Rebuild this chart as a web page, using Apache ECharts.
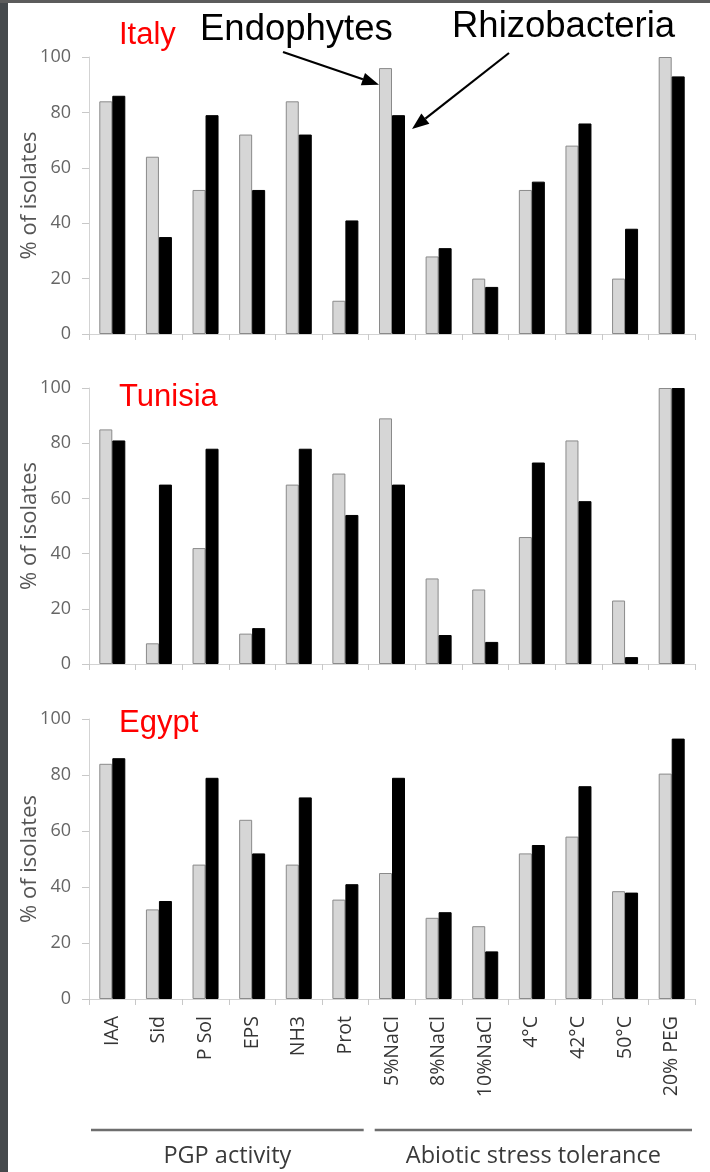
<!DOCTYPE html>
<html>
<head>
<meta charset="utf-8">
<script src="https://cdn.jsdelivr.net/npm/echarts@6/dist/echarts.min.js"></script>
<style>
  html, body { margin: 0; padding: 0; background: #ffffff; }
  #chart { width: 710px; height: 1172px; }
</style>
</head>
<body>
<div id="chart"></div>
<script>
// Traits tested on each isolate collection
const categories = ['IAA', 'Sid', 'P Sol', 'EPS', 'NH3', 'Prot', '5%NaCl', '8%NaCl', '10%NaCl', '4°C', '42°C', '50°C', '20% PEG'];

// Percentage of positive isolates per country
const italyEndophytes      = [84, 64, 52, 72, 84, 12, 96, 28, 20, 52, 68, 20, 100];
const italyRhizobacteria   = [86, 35, 79, 52, 72, 41, 79, 31, 17, 55, 76, 38, 93];
const tunisiaEndophytes    = [85, 7.5, 42, 11, 65, 69, 89, 31, 27, 46, 81, 23, 100];
const tunisiaRhizobacteria = [81, 65, 78, 13, 78, 54, 65, 10.5, 8, 73, 59, 2.5, 100];
const egyptEndophytes      = [84, 32, 48, 64, 48, 35.5, 45, 29, 26, 52, 58, 38.5, 80.5];
const egyptRhizobacteria   = [86, 35, 79, 52, 72, 41, 79, 31, 17, 55, 76, 38, 93];

const countries = ['Italy', 'Tunisia', 'Egypt'];
const seriesNames = ['Endophytes', 'Rhizobacteria'];
const yTicks = [0, 20, 40, 60, 80, 100];
const groupLabels = ['PGP activity', 'Abiotic stress tolerance'];
const groupRanges = [[0, 5], [6, 12]];

const endoData = [italyEndophytes, tunisiaEndophytes, egyptEndophytes];
const rhizoData = [italyRhizobacteria, tunisiaRhizobacteria, egyptRhizobacteria];

const FONT = 'Open Sans';
const panelBoxes = [
  { top: 57,  height: 277, titleTop: 20 },
  { top: 388, height: 276, titleTop: 382 },
  { top: 719, height: 280, titleTop: 708 }
];
const BAR_W = 13;

const chart = echarts.init(document.getElementById('chart'), null, { renderer: 'canvas' });

const grids = [], xAxes = [], yAxes = [], series = [], titles = [];
panelBoxes.forEach((p, i) => {
  grids.push({ left: 89, width: 606, top: p.top, height: p.height });
  xAxes.push({
    type: 'category', gridIndex: i, data: categories,
    axisLine: { lineStyle: { color: '#d3d3d3', width: 1 } },
    axisTick: { show: true, length: 6, lineStyle: { color: '#c8c8c8' } },
    axisLabel: {
      show: i === panelBoxes.length - 1, rotate: 90, interval: 0,
      fontFamily: FONT, fontSize: 19.5, color: '#353535', margin: 17
    }
  });
  yAxes.push({
    type: 'value', gridIndex: i,
    min: yTicks[0], max: yTicks[yTicks.length - 1], interval: yTicks[1] - yTicks[0],
    axisLine: { show: true, lineStyle: { color: '#d3d3d3', width: 1 } },
    axisTick: { show: true, length: 7, lineStyle: { color: '#c8c8c8' } },
    splitLine: { show: false },
    axisLabel: { fontFamily: FONT, fontSize: 18, color: '#666666', margin: 18 },
    name: '% of isolates', nameLocation: 'middle', nameGap: 48, nameMoveOverlap: false,
    nameTextStyle: { fontFamily: FONT, fontSize: 22, color: '#555555' }
  });
  series.push({
    name: seriesNames[0], type: 'bar', xAxisIndex: i, yAxisIndex: i,
    data: endoData[i], barWidth: BAR_W, barGap: '0%',
    itemStyle: { color: '#d6d6d6', borderColor: '#8a8a8a', borderWidth: 1 }
  });
  series.push({
    name: seriesNames[1], type: 'bar', xAxisIndex: i, yAxisIndex: i,
    data: rhizoData[i], barWidth: BAR_W, barGap: '0%',
    itemStyle: { color: '#000000', borderColor: '#000000', borderWidth: 1 }
  });
  titles.push({
    text: countries[i], left: 119, top: p.titleTop, padding: 0,
    textStyle: { fontFamily: 'Liberation Sans', fontSize: 31, fontWeight: 'normal', color: '#ff0000' }
  });
});

// Series names written above the first panel
titles.push({
  text: seriesNames[0], left: 200, top: 11, padding: 0,
  textStyle: { fontFamily: 'Liberation Sans', fontSize: 36.5, fontWeight: 'normal', color: '#000000' }
});
titles.push({
  text: seriesNames[1], left: 452, top: 8, padding: 0,
  textStyle: { fontFamily: 'Liberation Sans', fontSize: 36.5, fontWeight: 'normal', color: '#000000' }
});

chart.setOption({
  animation: false,
  backgroundColor: '#ffffff',
  title: titles,
  grid: grids,
  xAxis: xAxes,
  yAxis: yAxes,
  series: series
});

// Arrow from a label to a bar
function arrow(x1, y1, x2, y2) {
  const ang = Math.atan2(y2 - y1, x2 - x1);
  const len = 17, half = 6.5;
  const bx = x2 - len * Math.cos(ang), by = y2 - len * Math.sin(ang);
  const nx = -Math.sin(ang), ny = Math.cos(ang);
  return [
    { type: 'line', shape: { x1: x1, y1: y1, x2: bx, y2: by }, style: { stroke: '#000', lineWidth: 2.2 }, z: 20 },
    { type: 'polygon', shape: { points: [[x2, y2], [bx + nx * half, by + ny * half], [bx - nx * half, by - ny * half]] },
      style: { fill: '#000' }, z: 20 }
  ];
}

const graphics = [
  // dark frame strips along the left and top edges
  { type: 'rect', shape: { x: 0, y: 0, width: 8, height: 1172 }, style: { fill: '#45494c' }, z: 30 },
  { type: 'rect', shape: { x: 0, y: 0, width: 710, height: 3 }, style: { fill: '#5c5c5c' }, z: 30 }
];

// Arrows pointing to the 5%NaCl bars of the top panel
const iSalt = categories.indexOf('5%NaCl');
const endoTip = chart.convertToPixel({ gridIndex: 0 }, [iSalt, italyEndophytes[iSalt] - 6]);
const rhizoTip = chart.convertToPixel({ gridIndex: 0 }, [iSalt, italyRhizobacteria[iSalt] - 5]);
graphics.push(...arrow(283, 52, endoTip[0] - BAR_W, endoTip[1]));
graphics.push(...arrow(509, 53, rhizoTip[0] + BAR_W + 7, rhizoTip[1]));

// Group brackets under the bottom panel
const last = panelBoxes.length - 1;
const c0 = chart.convertToPixel({ xAxisIndex: last }, 0);
const c1 = chart.convertToPixel({ xAxisIndex: last }, 1);
const step = c1 - c0;
const insets = [[2, -5], [6, -3]];
groupRanges.forEach((r, k) => {
  const xa = chart.convertToPixel({ xAxisIndex: last }, r[0]) - step / 2 + insets[k][0];
  const xb = chart.convertToPixel({ xAxisIndex: last }, r[1]) + step / 2 + insets[k][1];
  graphics.push({ type: 'line', shape: { x1: xa, y1: 1130, x2: xb, y2: 1130 },
    style: { stroke: '#6e6e6e', lineWidth: 2.5 } });
  graphics.push({ type: 'text', x: (xa + xb) / 2, y: 1156,
    style: { text: groupLabels[k], fontFamily: FONT, fontSize: 23.5, fill: '#3a3a3a', align: 'center', verticalAlign: 'middle' } });
});

chart.setOption({ graphic: graphics });
</script>
</body>
</html>
